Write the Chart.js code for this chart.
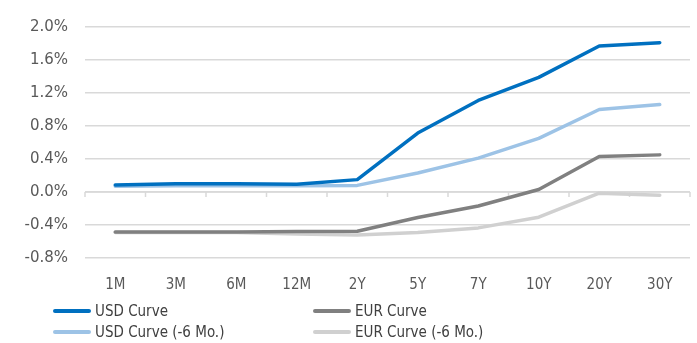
<!DOCTYPE html>
<html>
<head>
<meta charset="utf-8">
<script src="https://cdn.jsdelivr.net/npm/chart.js@4"></script>
<style>
  body { margin: 0; background: #fff; font-family: "DejaVu Sans Condensed", "DejaVu Sans", sans-serif; }
  #wrap { position: relative; width: 697px; height: 343px; }
  #legend { position: absolute; left: 53px; top: 301px; display: grid; grid-template-columns: 260px 260px; row-gap: 2px; }
  .item { display: flex; align-items: center; font-size: 15px; color: #404040; height: 19px; }
  .swatch { width: 38px; height: 4px; margin-right: 4px; border-radius: 2px; }
</style>
</head>
<body>
<div id="wrap">
  <canvas id="grafico" width="697" height="304"></canvas>
  <div id="legend"></div>
</div>
<script>
var plazos = ['1M', '3M', '6M', '12M', '2Y', '5Y', '7Y', '10Y', '20Y', '30Y'];
var usd = [0.085, 0.10, 0.10, 0.095, 0.15, 0.715, 1.11, 1.39, 1.77, 1.81];
var usd_6m = [0.07, 0.075, 0.075, 0.075, 0.08, 0.23, 0.41, 0.65, 1.00, 1.06];
var eur = [-0.485, -0.485, -0.485, -0.48, -0.476, -0.31, -0.17, 0.03, 0.43, 0.45];
var eur_6m = [-0.49, -0.49, -0.49, -0.51, -0.52, -0.49, -0.435, -0.305, -0.015, -0.04];

// linea del cero con marcas entre categorias
var ejeCero = {
    id: 'ejeCero',
    beforeDatasetsDraw: function (chart) {
        var ctx = chart.ctx;
        var x = chart.scales.x;
        var y0 = chart.scales.y.getPixelForValue(0);
        var paso = x.getPixelForTick(1) - x.getPixelForTick(0);
        ctx.save();
        ctx.strokeStyle = '#d9d9d9';
        ctx.lineWidth = 1.5;
        ctx.beginPath();
        ctx.moveTo(chart.chartArea.left, y0);
        ctx.lineTo(chart.chartArea.right, y0);
        for (var i = 0; i <= plazos.length; i++) {
            var px = x.getPixelForTick(0) - paso / 2 + i * paso;
            ctx.moveTo(px, y0);
            ctx.lineTo(px, y0 + 5);
        }
        ctx.stroke();
        ctx.restore();
    }
};

var ctx = document.getElementById('grafico').getContext('2d');
var myChart = new Chart(ctx, {
    type: 'line',
    data: {
        labels: plazos,
        datasets: [
            { label: 'USD Curve', data: usd, borderColor: '#0070C0' },
            { label: 'EUR Curve', data: eur, borderColor: '#808080' },
            { label: 'USD Curve (-6 Mo.)', data: usd_6m, borderColor: '#9DC3E6' },
            { label: 'EUR Curve (-6 Mo.)', data: eur_6m, borderColor: '#D0D0D0' }
        ]
    },
    options: {
        responsive: false,
        animation: false,
        elements: {
            line: { borderWidth: 3.5, tension: 0, borderCapStyle: 'round', borderJoinStyle: 'round' },
            point: { radius: 0 }
        },
        layout: { padding: { top: 27, right: 7, left: 0, bottom: 0 } },
        plugins: { legend: { display: false }, tooltip: { enabled: false } },
        scales: {
            x: {
                offset: true,
                grid: { display: false, offset: true },
                border: { display: false },
                ticks: { color: '#595959', font: { family: 'DejaVu Sans Condensed', size: 15 }, padding: 10, maxRotation: 0 }
            },
            y: {
                min: -0.8, max: 2.0,
                afterFit: function (scale) { scale.width = 85; },
                grid: { color: '#d9d9d9', lineWidth: 1.5, drawTicks: false },
                border: { display: false },
                ticks: {
                    stepSize: 0.4, padding: 17, color: '#595959',
                    font: { family: 'DejaVu Sans', size: 15 },
                    callback: function (v) {
                        if (Math.abs(v) < 1e-9) v = 0;
                        return v.toFixed(1) + '%';
                    }
                }
            }
        }
    },
    plugins: [ejeCero]
});

var leyenda = document.getElementById('legend');
myChart.data.datasets.forEach(function (ds) {
    var d = document.createElement('div');
    d.className = 'item';
    d.innerHTML = '<span class="swatch" style="background:' + ds.borderColor + '"></span>' + ds.label;
    leyenda.appendChild(d);
});
</script>
</body>
</html>
